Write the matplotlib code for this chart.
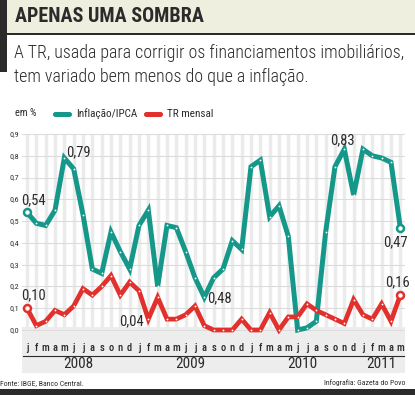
import numpy as np
import matplotlib
matplotlib.use("Agg")
from matplotlib import pyplot as plt
from matplotlib.patches import Rectangle, FancyBboxPatch

plt.rcParams['font.family'] = ['Roboto Condensed', 'DejaVu Sans']

# monthly values, jan/2008 .. may/2011
ipca = [0.54, 0.49, 0.48, 0.55, 0.79, 0.74, 0.53, 0.28, 0.26, 0.45, 0.36, 0.28,
        0.48, 0.55, 0.20, 0.48, 0.47, 0.36, 0.24, 0.15, 0.24, 0.28, 0.41, 0.37,
        0.75, 0.78, 0.52, 0.57, 0.43, 0.00, 0.01, 0.04, 0.45, 0.75, 0.83, 0.62,
        0.83, 0.80, 0.79, 0.77, 0.47]
tr = [0.10, 0.02, 0.04, 0.09, 0.07, 0.11, 0.19, 0.16, 0.20, 0.25, 0.16, 0.22,
      0.18, 0.05, 0.15, 0.05, 0.05, 0.07, 0.11, 0.02, 0.00, 0.00, 0.00, 0.05,
      0.00, 0.00, 0.08, 0.00, 0.06, 0.06, 0.12, 0.09, 0.07, 0.05, 0.03, 0.14,
      0.07, 0.05, 0.12, 0.04, 0.16]
month_letters = list("jfmamjjasond")
years = ["2008", "2009", "2010", "2011"]
yticks = [0.0, 0.1, 0.2, 0.3, 0.4, 0.5, 0.6, 0.7, 0.8, 0.9]
callout_text = ["0,54", "0,79", "0,10", "0,04", "0,48", "0,83", "0,47", "0,16"]
# label centres in pixels
callout_pos = [(33, 200), (78, 152), (33, 295), (131, 321),
               (219, 298), (342, 140), (395, 242), (397, 282)]

TEAL = "#15988a"
RED = "#e2312c"
DARK = "#2b2b2b"
W, H = 415, 395
SUB = ["Roboto Condensed", "DejaVu Sans"]


def fx(px):
    return px / W


def fy(py):
    return 1 - py / H


fig = plt.figure(figsize=(W / 100, H / 100), dpi=100)
fig.patch.set_facecolor("white")

# header
fig.patches.append(Rectangle((fx(7), fy(33)), 1, 33 / H, transform=fig.transFigure,
                             facecolor="#efefdf", edgecolor="none", zorder=0))
fig.patches.append(Rectangle((0, fy(72)), fx(7), 72 / H, transform=fig.transFigure,
                             facecolor=DARK, edgecolor="none", zorder=1))
fig.patches.append(Rectangle((fx(7), fy(34.5)), 1, 1.5 / H, transform=fig.transFigure,
                             facecolor=DARK, edgecolor="none", zorder=1))
fig.text(fx(15), fy(17), "APENAS UMA SOMBRA", fontsize=14.5, fontweight="bold",
         color=DARK, va="center", ha="left")
fig.text(fx(14), fy(53), "A TR, usada para corrigir os financiamentos imobiliários,",
         fontsize=12.9, fontweight="light", color=DARK, va="center", ha="left", family=SUB)
fig.text(fx(14), fy(77), "tem variado bem menos do que a inflação.",
         fontsize=12.9, fontweight="light", color=DARK, va="center", ha="left", family=SUB)

# legend
fig.text(fx(15), fy(113), "em %", fontsize=7.5, color=DARK, va="center")
for x0, col, lab in [(53, TEAL, "Inflação/IPCA"), (144, RED, "TR mensal")]:
    fig.patches.append(FancyBboxPatch((fx(x0), fy(117)), fx(19), 5 / H,
                                      boxstyle="round,pad=0,rounding_size=0.006",
                                      transform=fig.transFigure, facecolor=col,
                                      edgecolor="none", zorder=2))
    fig.text(fx(x0 + 23), fy(114), lab, fontsize=8, color=DARK, va="center")

# bottom band
fig.patches.append(Rectangle((fx(22), fy(373)), fx(383), 46 / H, transform=fig.transFigure,
                             facecolor="#ededed", edgecolor="none", zorder=0))

# footer
fig.patches.append(Rectangle((0, 0), 1, 6 / H, transform=fig.transFigure,
                             facecolor=DARK, edgecolor="none", zorder=1))
fig.text(fx(0), fy(383), "Fonte: IBGE, Banco Central.", fontsize=5.6, color=DARK,
         va="center", ha="left")
fig.text(fx(405), fy(383), "Infografia: Gazeta do Povo", fontsize=5.6, color=DARK,
         va="center", ha="right")

# chart area
px_month = (400.3 - 27) / 40
px_unit = (330 - 134) / 0.9


def dx(px):
    return (px - 27) / px_month


def dy(py):
    return (330 - py) / px_unit


ax = fig.add_axes([fx(22), fy(338), fx(405) - fx(22), (338 - 125) / H])
ax.set_zorder(3)
ax.set_facecolor("none")
ax.set_xlim(dx(22), dx(405))
ax.set_ylim(dy(338), dy(125))
for s in ax.spines.values():
    s.set_visible(False)
ax.set_xticks([])
ax.set_yticks([])

x = np.arange(len(ipca))
for yt in yticks:
    ax.axhline(yt, color="#dcdcdc", lw=0.8, zorder=1)
    ax.text(dx(14), yt, f"{yt:.1f}".replace(".", ","), fontsize=5.8,
            color=DARK, ha="center", va="center", clip_on=False)
ax.vlines(x, 0, 0.9, color="#ebebeb", lw=2.5, zorder=0.5)

ax.plot(x, ipca, color=TEAL, lw=3.6, solid_joinstyle="miter", zorder=3)
ax.plot(x, tr, color=RED, lw=3.4, solid_joinstyle="miter", zorder=3)
ax.plot(x, ipca, "o", ms=1.3, color="white", mec="none", zorder=4)
ax.plot(x, tr, "o", ms=1.3, color="white", mec="none", zorder=4)
for ser, col in [(ipca, TEAL), (tr, RED)]:
    ax.plot([x[0], x[-1]], [ser[0], ser[-1]], "o", ms=5, mfc="white", mec=col,
            mew=1.8, zorder=5)

for txt, (cx, cy) in zip(callout_text, callout_pos):
    ax.text(dx(cx), dy(cy), txt, fontsize=10.5, color=DARK, ha="center", va="center",
            zorder=6, clip_on=False)

# month letters, year rules and labels
for i in x:
    ax.text(i, dy(348), month_letters[i % 12], fontsize=7.5, fontweight="medium",
            color=DARK, ha="center", va="center", clip_on=False)
for k, yl in enumerate(years):
    first = 12 * k
    last = min(12 * k + 11, len(ipca) - 1)
    ax.plot([first - 0.45, last + 0.45], [dy(355.5), dy(355.5)], color=DARK, lw=0.8,
            clip_on=False)
    ax.text((first + last) / 2, dy(364), yl, fontsize=11, color=DARK, ha="center",
            va="center", clip_on=False)

fig.savefig("out.png", dpi=100)
